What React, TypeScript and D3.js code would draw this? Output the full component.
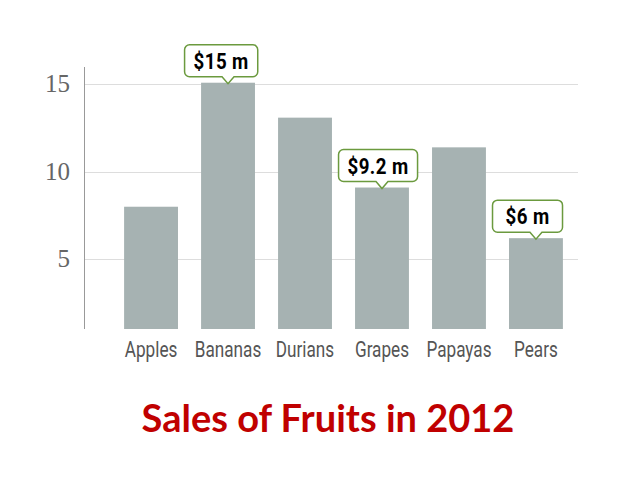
import * as d3 from 'd3';
import { useEffect, useRef } from 'react';

const categories = ['Apples', 'Bananas', 'Durians', 'Grapes', 'Papayas', 'Pears'];
const sales = [8, 15.1, 13.1, 9.1, 11.4, 6.2];
const callouts = ['', '$15 m', '', '$9.2 m', '', '$6 m'];
const yTicks = [5, 10, 15];
const title = 'Sales of Fruits in 2012';

const width = 640;
const height = 480;

// no condensed face installed, so squeeze a normal sans horizontally
const squeeze = 0.78;

export default function App() {
    const ref = useRef<SVGSVGElement>(null);

    useEffect(() => {
        if (!ref.current) return;
        const svg = d3.select(ref.current);
        svg.selectAll('*').remove();

        const x = d3.scaleBand<string>().domain(categories).range([101, 586]).paddingInner(0.3).paddingOuter(0.3);
        const y = d3.scaleLinear().domain([1, 16]).range([329, 67]);

        // grid lines
        svg.append('g')
            .selectAll('line')
            .data(yTicks)
            .join('line')
            .attr('x1', 84)
            .attr('x2', 578)
            .attr('y1', (d) => Math.round(y(d)) + 0.5)
            .attr('y2', (d) => Math.round(y(d)) + 0.5)
            .attr('stroke', '#dddddd');

        // y axis line
        svg.append('line')
            .attr('x1', 84.5)
            .attr('x2', 84.5)
            .attr('y1', 67)
            .attr('y2', 329)
            .attr('stroke', '#999');

        svg.append('g')
            .selectAll('text')
            .data(yTicks)
            .join('text')
            .attr('x', 70)
            .attr('y', (d) => y(d) + 8)
            .attr('text-anchor', 'end')
            .attr('font-family', '"Liberation Serif", "DejaVu Serif", serif')
            .attr('font-size', 25)
            .attr('fill', '#666')
            .text((d) => d);

        // bars
        svg.append('g')
            .selectAll('rect')
            .data(sales)
            .join('rect')
            .attr('x', (_, i) => x(categories[i])!)
            .attr('width', x.bandwidth())
            .attr('y', (d) => y(d))
            .attr('height', (d) => y(1) - y(d))
            .attr('fill', '#a6b2b2');

        // category labels
        svg.append('g')
            .selectAll('text')
            .data(categories)
            .join('text')
            .attr('transform', (d) => `translate(${x(d)! + x.bandwidth() / 2},357) scale(${squeeze},1)`)
            .attr('text-anchor', 'middle')
            .attr('font-family', 'Roboto, "Noto Sans", sans-serif')
            .attr('font-size', 22)
            .attr('fill', '#555')
            .text((d) => d);

        // callouts
        const calloutLayer = svg.append('g');
        callouts.forEach((label, i) => {
            if (!label) return;
            const barX = x(categories[i])!;
            const cx = barX + x.bandwidth() / 2;
            const top = y(sales[i]);
            const g = calloutLayer.append('g');
            const shape = g.append('path');
            const text = g
                .append('text')
                .attr('font-family', 'Roboto, "Noto Sans", sans-serif')
                .attr('font-weight', 'bold')
                .attr('font-size', 22)
                .attr('letter-spacing', 0.5)
                .attr('fill', '#000')
                .attr('text-anchor', 'middle')
                .text(label);
            const tw = (text.node() as SVGTextElement).getComputedTextLength() * 0.85;
            const bw = Math.max(70, tw + 18);
            const bx = barX - 16.5;
            const bh = 32;
            const by = top - 6 - bh;
            const r = 5;
            const path = d3.path();
            path.moveTo(bx + r, by);
            path.lineTo(bx + bw - r, by);
            path.arcTo(bx + bw, by, bx + bw, by + r, r);
            path.lineTo(bx + bw, by + bh - r);
            path.arcTo(bx + bw, by + bh, bx + bw - r, by + bh, r);
            path.lineTo(cx + 6, by + bh);
            path.lineTo(cx, by + bh + 7);
            path.lineTo(cx - 6, by + bh);
            path.lineTo(bx + r, by + bh);
            path.arcTo(bx, by + bh, bx, by + bh - r, r);
            path.lineTo(bx, by + r);
            path.arcTo(bx, by, bx + r, by, r);
            path.closePath();
            shape.attr('d', path.toString()).attr('fill', '#fff').attr('stroke', '#6b9a3e').attr('stroke-width', 1.5);
            text.attr('transform', `translate(${bx + bw / 2},${by + bh / 2 + 8}) scale(0.85,1)`);
        });

        // title
        svg.append('text')
            .attr('x', 328)
            .attr('y', 432)
            .attr('text-anchor', 'middle')
            .attr('font-family', 'Lato, "Open Sans", sans-serif')
            .attr('font-weight', 'bold')
            .attr('font-size', 38)
            .attr('fill', '#c00000')
            .text(title);
    }, []);

    return <svg ref={ref} width={width} height={height} style={{ position: 'absolute', left: 0, top: 0 }} />;
}
